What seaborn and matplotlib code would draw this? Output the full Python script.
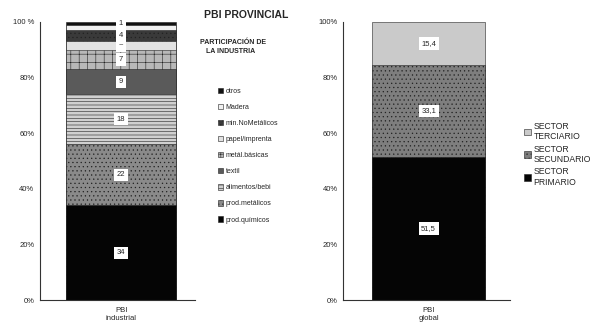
import numpy as np
import pandas as pd
import matplotlib
matplotlib.use("Agg")
import matplotlib.pyplot as plt
import seaborn as sns

# datos: PBI industrial (de abajo hacia arriba)
ramas = ["prod.químicos", "prod.metálicos", "alimentos/bebi", "textil", "metál.básicas",
         "papel/imprenta", "min.NoMetálicos", "Madera", "otros"]
part_industria = [34, 22, 18, 9, 7, 3, 4, 2, 1]
etiquetas_ind = ["34", "22", "18", "9", "7", "~", "4", "", "1"]

# datos: PBI global
sectores = ["SECTOR\nPRIMARIO", "SECTOR\nSECUNDARIO", "SECTOR\nTERCIARIO"]
part_global = [51.5, 33.1, 15.4]
etiquetas_glob = ["51,5", "33,1", "15,4"]

colores_ind = ["#050505", "#8a8a8a", "#d0d0d0", "#5a5a5a", "#b8b8b8",
               "#e2e2e2", "#3a3a3a", "#f0f0f0", "#111111"]
hatch_ind = ["", "....", "-----", "", "++", "", "....", "", ""]
colores_glob = ["#050505", "#7e7e7e", "#cacaca"]
hatch_glob = ["", "....", ""]

sns.set_style("white")
plt.rcParams["font.family"] = ["Liberation Sans", "DejaVu Sans"]
plt.rcParams["hatch.color"] = "#ffffff"
plt.rcParams["hatch.linewidth"] = 0.4

fig = plt.figure(figsize=(6.01, 3.33), dpi=100)
ax1 = fig.add_axes([0.0666, 0.099, 0.258, 0.835])
ax2 = fig.add_axes([0.571, 0.099, 0.278, 0.835])


def barra_apilada(ax, valores, colores, hatches, etiquetas, categoria):
    acum = np.cumsum(valores)
    handles = []
    # se dibujan de la mas alta a la mas baja para que se superpongan
    for i in range(len(valores) - 1, -1, -1):
        df = pd.DataFrame({"cat": [categoria], "v": [acum[i]]})
        sns.barplot(data=df, x="cat", y="v", ax=ax, color=colores[i], width=0.7,
                    saturation=1, edgecolor="#222222", linewidth=0.4)
        patch = ax.patches[-1]
        patch.set_hatch(hatches[i])
        handles.append(patch)
    base = np.concatenate([[0], acum[:-1]])
    for b, v, t in zip(base, valores, etiquetas):
        if t:
            ax.text(0, b + v / 2, t, ha="center", va="center", fontsize=5.5,
                    bbox=dict(boxstyle="square,pad=0.35", fc="white", ec="none"))
    return handles


h1 = barra_apilada(ax1, part_industria, colores_ind, hatch_ind, etiquetas_ind, "PBI\nindustrial")
h2 = barra_apilada(ax2, part_global, colores_glob, hatch_glob, etiquetas_glob, "PBI\nglobal")

for ax, xl in [(ax1, (-0.516, 0.471)), (ax2, (-0.53, 0.506))]:
    if ax.get_legend() is not None:
        ax.get_legend().remove()
    ax.set_ylim(0, 100)
    ax.set_xlim(*xl)
    ax.set_xlabel("")
    ax.set_ylabel("")
    ax.set_yticks([0, 20, 40, 60, 80, 100])
    for s in ["top", "right"]:
        ax.spines[s].set_visible(False)
    ax.spines["left"].set_color("#333333")
    ax.spines["bottom"].set_color("#333333")
    ax.spines["left"].set_linewidth(0.8)
    ax.spines["bottom"].set_linewidth(0.8)
    ax.tick_params(axis="y", direction="inout", length=4, width=0.7, labelsize=5.5, pad=2)
    ax.tick_params(axis="x", length=0, labelsize=5.5, pad=5)

ax1.set_yticklabels(["0%", "20%", "40%", "60%", "80%", "100 %"])
ax2.set_yticklabels(["0%", "20%", "40%", "60%", "80%", "100%"])

fig.text(0.34, 0.945, "PBI PROVINCIAL", fontsize=7.5, fontweight="bold", ha="left")
fig.text(0.333, 0.86, "PARTICIPACIÓN DE\n   LA INDUSTRIA", fontsize=5, fontweight="bold",
         ha="left", va="center", linespacing=1.4)

fig.legend(handles=h1, labels=ramas[::-1], loc="upper left", bbox_to_anchor=(0.358, 0.745),
           frameon=False, fontsize=5, handlelength=0.8, handleheight=0.8, handletextpad=0.3,
           labelspacing=1.3, borderaxespad=0)
fig.legend(handles=h2, labels=sectores[::-1], loc="upper left", bbox_to_anchor=(0.866, 0.645),
           frameon=False, fontsize=6.2, handlelength=0.8, handleheight=0.8, handletextpad=0.3,
           labelspacing=0.4, borderaxespad=0)

fig.savefig("out.png", dpi=100)
